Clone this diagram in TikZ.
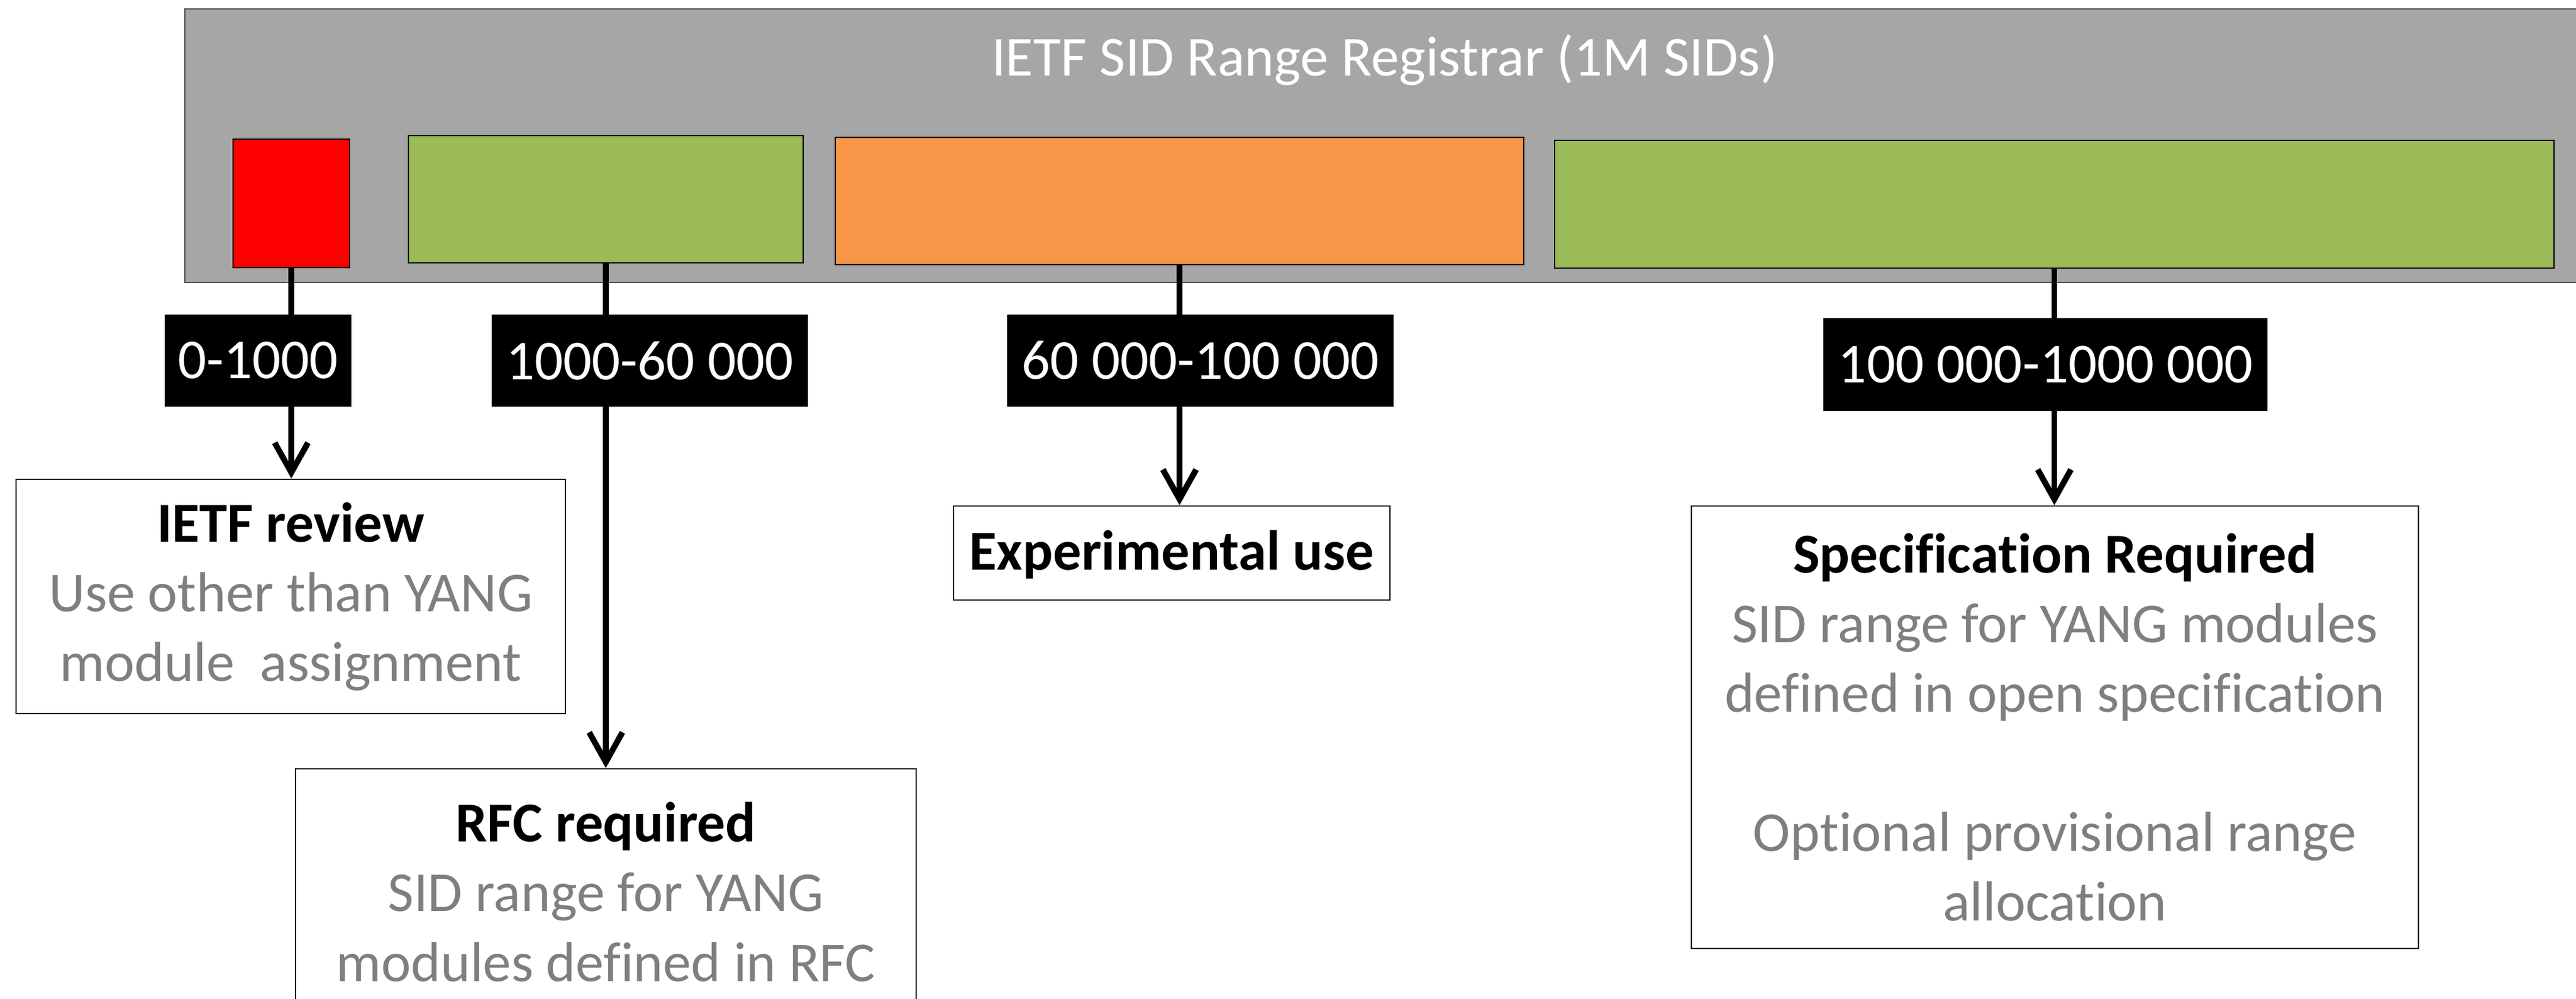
\documentclass[tikz,border=0pt]{standalone}
\usepackage{fontspec}
\setmainfont{Carlito}[Ligatures=CommonOff]
\usepackage{tikz}
\usepackage{xcolor}
\usetikzlibrary{arrows.meta}

\definecolor{regGray}{HTML}{A6A6A6}
\definecolor{sidRed}{HTML}{FF0000}
\definecolor{sidGreen}{HTML}{9BBB59}
\definecolor{sidOrange}{HTML}{F79646}
\definecolor{noteGray}{HTML}{7F7F7F}

\newcommand{\sidfont}{\fontsize{27}{33.3}\selectfont}

\begin{document}
\begin{tikzpicture}[
	block/.style={draw=black,line width=0.8pt,inner sep=0pt},
	sidlabel/.style={fill=black,text=white,inner sep=0pt,font=\sidfont},
	policy/.style={draw=black,line width=0.8pt,fill=white,inner sep=0pt,align=center,text=noteGray,font=\sidfont},
	arr/.style={line width=2.8pt,-{Straight Barb[length=5mm,width=5.6mm,line width=2.8pt]}}
	]
	\path[use as bounding box] (0,0) rectangle (43.33,-16.79);
	\clip (0,0) rectangle (43.33,-16.79);
	% registrar
	\node[block,fill=regGray,draw=black!70,minimum width=40.4cm,minimum height=4.6cm] (reg) at (23.31,-2.45) {};
	\node[text=white,font=\sidfont,anchor=base] (title) at (23.29,-1.27) {IETF SID Range Registrar (1M SIDs)};
	% ranges
	\node[block,fill=sidRed,minimum width=1.96cm,minimum height=2.16cm] (red) at (4.90,-3.42) {};
	\node[block,fill=sidGreen,minimum width=6.64cm,minimum height=2.14cm] (grnA) at (10.19,-3.35) {};
	\node[block,fill=sidOrange,minimum width=11.58cm,minimum height=2.14cm] (orng) at (19.84,-3.38) {};
	\node[block,fill=sidGreen,minimum width=16.81cm,minimum height=2.15cm] (grnB) at (34.555,-3.435) {};
	% policies
	\node[policy,minimum width=9.24cm,minimum height=3.94cm] (review) at (4.89,-10.03)
		{\textbf{\color{black}IETF review}\\Use other than YANG\\module~ assignment};
	\node[policy,minimum width=10.44cm,minimum height=4.14cm] (rfc) at (10.19,-15.0)
		{\textbf{\color{black}RFC required}\\SID range for YANG\\modules defined in RFC};
	\node[policy,minimum width=7.34cm,minimum height=1.58cm,text depth=0.1cm] (exper) at (19.71,-9.30)
		{\textbf{\color{black}Experimental use}};
	\node[policy,minimum width=12.23cm,minimum height=7.44cm] (spec) at (34.565,-12.23)
		{\textbf{\color{black}Specification Required}\\SID range for YANG modules\\defined in open specification\\[33.3pt]Optional provisional range\\allocation};
	% arrows
	\draw[arr] (red.south) -- (red.south |- review.north);
	\draw[arr] (grnA.south) -- (grnA.south |- rfc.north);
	\draw[arr] (orng.south) -- (orng.south |- exper.north);
	\draw[arr] (grnB.south) -- (grnB.south |- spec.north);
	% range labels
	\node[sidlabel,minimum width=3.14cm,minimum height=1.55cm] (labA) at (4.34,-6.065) {0-1000};
	\node[sidlabel,minimum width=5.32cm,minimum height=1.55cm] (labB) at (10.93,-6.065) {1000-60 000};
	\node[sidlabel,minimum width=6.50cm,minimum height=1.55cm] (labC) at (20.19,-6.06) {60 000-100 000};
	\node[sidlabel,minimum width=7.47cm,minimum height=1.56cm] (labD) at (34.405,-6.13) {100 000-1000 000};
\end{tikzpicture}
\end{document}
